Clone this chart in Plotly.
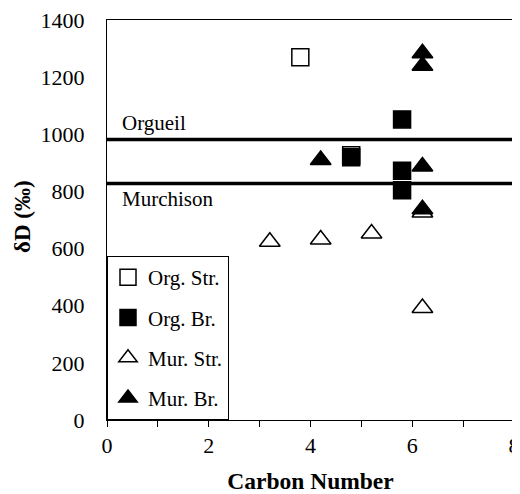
import plotly.graph_objects as go

# Data
org_str_x = [3.8, 4.8]
org_str_y = [1270, 927]
org_br_x = [4.8, 5.8, 5.8, 5.8]
org_br_y = [920, 1052, 872, 804]
mur_str_x = [3.2, 4.2, 5.2, 6.2, 6.2]
mur_str_y = [624, 632, 653, 392, 726]
mur_br_x = [4.2, 6.2, 6.2, 6.2, 6.2]
mur_br_y = [910, 1284, 1240, 887, 738]
orgueil_value = 982
murchison_value = 828
x_ticks = [0, 2, 4, 6, 8]
y_ticks = [0, 200, 400, 600, 800, 1000, 1200, 1400]
y_range = [0, 1400]

FONT = "Liberation Serif"

fig = go.Figure()

def add(name, xs, ys, symbol, fill, size):
    fig.add_trace(go.Scatter(
        x=xs, y=ys, mode="markers", name=name, legendgroup=name,
        marker=dict(symbol=symbol, size=size, color=fill,
                    line=dict(color="black", width=1.5)),
    ))

add("Org. Str.", org_str_x, org_str_y, "square", "white", 17)
add("Org. Br.", org_br_x, org_br_y, "square", "black", 17)
add("Mur. Str.", mur_str_x, mur_str_y, "triangle-up", "white", 18)
add("Mur. Br.", mur_br_x, mur_br_y, "triangle-up", "black", 18)

for v in (orgueil_value, murchison_value):
    fig.add_shape(type="line", xref="paper", x0=0, x1=1, yref="y", y0=v, y1=v,
                  line=dict(color="black", width=3.5), layer="below")

fig.add_annotation(x=0.26, y=orgueil_value, xref="x", yref="y", text="Orgueil",
                   showarrow=False, xanchor="left", yanchor="bottom", yshift=2,
                   font=dict(family=FONT, size=21, color="black"))
fig.add_annotation(x=0.26, y=murchison_value, xref="x", yref="y", text="Murchison",
                   showarrow=False, xanchor="left", yanchor="top", yshift=-2,
                   font=dict(family=FONT, size=21, color="black"))
# y-axis title
fig.add_annotation(x=0, y=0.5, xref="paper", yref="paper", text="<b>δD (‰)</b>",
                   showarrow=False, textangle=-90, xanchor="center", yanchor="middle",
                   xshift=-85, yshift=3,
                   font=dict(family=FONT, size=23, color="black"))

# The page body has an 8px margin, so the figure is made 8px smaller.
fig.update_layout(
    width=512, height=486,
    margin=dict(l=99, r=6, t=12, b=74, autoexpand=False),
    paper_bgcolor="white", plot_bgcolor="white",
    font=dict(family=FONT, size=21, color="black"),
    showlegend=True,
    legend=dict(x=0, y=0, xanchor="left", yanchor="bottom",
                bgcolor="white", bordercolor="black", borderwidth=1,
                font=dict(family=FONT, size=21, color="black"),
                traceorder="grouped", tracegroupgap=10),
    xaxis=dict(range=[0, 8], tickvals=x_ticks, ticks="outside", ticklen=6,
               tickcolor="black", showline=True, linecolor="black", linewidth=1,
               mirror=True, showgrid=False, zeroline=False, automargin=False,
               ticklabeloverflow="allow",
               tickfont=dict(size=22),
               minor=dict(dtick=1, ticks="outside", ticklen=6, tickcolor="black"),
               title=dict(text="<b>Carbon Number</b>", font=dict(size=23.5), standoff=15)),
    # labels sit further from the axis than the visible ticks: long invisible ticks here
    yaxis=dict(range=y_range, tickvals=y_ticks, ticks="outside", ticklen=17,
               tickcolor="rgba(0,0,0,0)", showline=True, linecolor="black", linewidth=1,
               mirror=True, showgrid=False, zeroline=False, automargin=False,
               ticklabeloverflow="allow",
               tickfont=dict(size=22)),
    # visible short ticks drawn by an overlaid axis without labels
    yaxis2=dict(range=y_range, tickvals=y_ticks, ticks="outside", ticklen=7,
                tickcolor="black", overlaying="y", side="left", anchor="x",
                showticklabels=False, showline=False, showgrid=False,
                zeroline=False, automargin=False),
)

fig.write_html("out.html")
